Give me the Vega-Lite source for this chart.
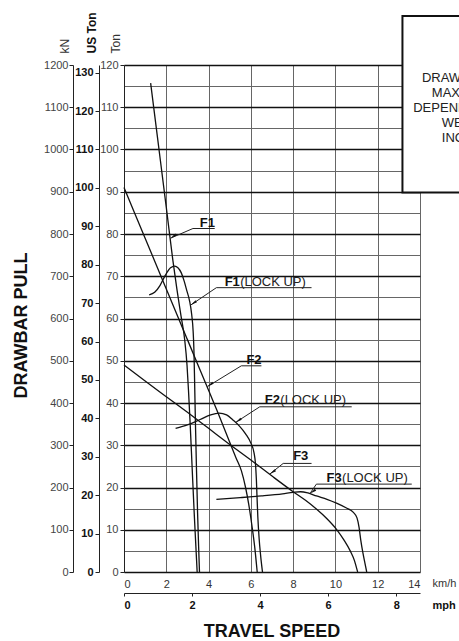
{
  "$schema": "https://vega.github.io/schema/vega-lite/v6.json",
  "width": 296,
  "height": 507,
  "autosize": {"type": "none"},
  "padding": {"left": 124, "top": 65, "right": 39, "bottom": 69},
  "config": {
    "font": "Liberation Sans",
    "view": {"stroke": null},
    "axis": {"labelFont": "Liberation Sans", "titleFont": "Liberation Sans"}
  },
  "title": {"text": "TRAVEL SPEED", "orient": "bottom", "anchor": "middle", "fontSize": 18, "fontWeight": "bold", "color": "#111", "offset": 13},
  "datasets": {
    "curves": [
      {"curve": "F1", "i": 0, "x": 1.26, "y": 115.7}, {"curve": "F1", "i": 1, "x": 1.6, "y": 102.2}, {"curve": "F1", "i": 2, "x": 2.0, "y": 86.3}, {"curve": "F1", "i": 3, "x": 2.31, "y": 73.8}, {"curve": "F1", "i": 4, "x": 2.5, "y": 67}, {"curve": "F1", "i": 5, "x": 2.7, "y": 60.5}, {"curve": "F1", "i": 6, "x": 2.87, "y": 55}, {"curve": "F1", "i": 7, "x": 2.98, "y": 49}, {"curve": "F1", "i": 8, "x": 3.05, "y": 43}, {"curve": "F1", "i": 9, "x": 3.13, "y": 35}, {"curve": "F1", "i": 10, "x": 3.22, "y": 25}, {"curve": "F1", "i": 11, "x": 3.32, "y": 14}, {"curve": "F1", "i": 12, "x": 3.4, "y": 6}, {"curve": "F1", "i": 13, "x": 3.46, "y": 0},
      {"curve": "F1LU", "i": 0, "x": 1.19, "y": 65.6}, {"curve": "F1LU", "i": 1, "x": 1.45, "y": 66.2}, {"curve": "F1LU", "i": 2, "x": 1.7, "y": 67.8}, {"curve": "F1LU", "i": 3, "x": 1.95, "y": 70.2}, {"curve": "F1LU", "i": 4, "x": 2.2, "y": 72.0}, {"curve": "F1LU", "i": 5, "x": 2.4, "y": 72.4}, {"curve": "F1LU", "i": 6, "x": 2.55, "y": 72.0}, {"curve": "F1LU", "i": 7, "x": 2.71, "y": 70.8}, {"curve": "F1LU", "i": 8, "x": 2.85, "y": 68.8}, {"curve": "F1LU", "i": 9, "x": 2.97, "y": 66.6}, {"curve": "F1LU", "i": 10, "x": 3.1, "y": 64.2}, {"curve": "F1LU", "i": 11, "x": 3.2, "y": 61}, {"curve": "F1LU", "i": 12, "x": 3.27, "y": 57}, {"curve": "F1LU", "i": 13, "x": 3.31, "y": 52}, {"curve": "F1LU", "i": 14, "x": 3.34, "y": 45}, {"curve": "F1LU", "i": 15, "x": 3.38, "y": 35}, {"curve": "F1LU", "i": 16, "x": 3.43, "y": 24}, {"curve": "F1LU", "i": 17, "x": 3.48, "y": 14}, {"curve": "F1LU", "i": 18, "x": 3.53, "y": 6}, {"curve": "F1LU", "i": 19, "x": 3.57, "y": 0},
      {"curve": "F2", "i": 0, "x": 0, "y": 91}, {"curve": "F2", "i": 1, "x": 1, "y": 79}, {"curve": "F2", "i": 2, "x": 2, "y": 67}, {"curve": "F2", "i": 3, "x": 3, "y": 55}, {"curve": "F2", "i": 4, "x": 4, "y": 43}, {"curve": "F2", "i": 5, "x": 4.5, "y": 37}, {"curve": "F2", "i": 6, "x": 5.0, "y": 30.7}, {"curve": "F2", "i": 7, "x": 5.3, "y": 27}, {"curve": "F2", "i": 8, "x": 5.55, "y": 24}, {"curve": "F2", "i": 9, "x": 5.75, "y": 20}, {"curve": "F2", "i": 10, "x": 5.9, "y": 16}, {"curve": "F2", "i": 11, "x": 6.05, "y": 11}, {"curve": "F2", "i": 12, "x": 6.18, "y": 6}, {"curve": "F2", "i": 13, "x": 6.3, "y": 0},
      {"curve": "F2LU", "i": 0, "x": 2.44, "y": 34.0}, {"curve": "F2LU", "i": 1, "x": 3.0, "y": 34.8}, {"curve": "F2LU", "i": 2, "x": 3.6, "y": 36.1}, {"curve": "F2LU", "i": 3, "x": 4.1, "y": 37.2}, {"curve": "F2LU", "i": 4, "x": 4.5, "y": 37.6}, {"curve": "F2LU", "i": 5, "x": 4.85, "y": 37.2}, {"curve": "F2LU", "i": 6, "x": 5.15, "y": 36}, {"curve": "F2LU", "i": 7, "x": 5.45, "y": 34.6}, {"curve": "F2LU", "i": 8, "x": 5.75, "y": 32.7}, {"curve": "F2LU", "i": 9, "x": 6.0, "y": 30.5}, {"curve": "F2LU", "i": 10, "x": 6.15, "y": 28.2}, {"curve": "F2LU", "i": 11, "x": 6.22, "y": 25.5}, {"curve": "F2LU", "i": 12, "x": 6.26, "y": 22}, {"curve": "F2LU", "i": 13, "x": 6.29, "y": 18}, {"curve": "F2LU", "i": 14, "x": 6.33, "y": 13}, {"curve": "F2LU", "i": 15, "x": 6.39, "y": 8}, {"curve": "F2LU", "i": 16, "x": 6.46, "y": 4}, {"curve": "F2LU", "i": 17, "x": 6.55, "y": 0},
      {"curve": "F3", "i": 0, "x": 0, "y": 49}, {"curve": "F3", "i": 1, "x": 1, "y": 45.2}, {"curve": "F3", "i": 2, "x": 2, "y": 41.5}, {"curve": "F3", "i": 3, "x": 3, "y": 37.8}, {"curve": "F3", "i": 4, "x": 4, "y": 34.0}, {"curve": "F3", "i": 5, "x": 5, "y": 30.2}, {"curve": "F3", "i": 6, "x": 6, "y": 26.5}, {"curve": "F3", "i": 7, "x": 7, "y": 22.7}, {"curve": "F3", "i": 8, "x": 8, "y": 19.0}, {"curve": "F3", "i": 9, "x": 8.6, "y": 16.9}, {"curve": "F3", "i": 10, "x": 9.1, "y": 14.9}, {"curve": "F3", "i": 11, "x": 9.6, "y": 12.6}, {"curve": "F3", "i": 12, "x": 10.05, "y": 10.1}, {"curve": "F3", "i": 13, "x": 10.4, "y": 7.6}, {"curve": "F3", "i": 14, "x": 10.7, "y": 5}, {"curve": "F3", "i": 15, "x": 10.9, "y": 2.7}, {"curve": "F3", "i": 16, "x": 11.05, "y": 0},
      {"curve": "F3LU", "i": 0, "x": 4.37, "y": 17.2}, {"curve": "F3LU", "i": 1, "x": 5.5, "y": 17.6}, {"curve": "F3LU", "i": 2, "x": 6.5, "y": 18.0}, {"curve": "F3LU", "i": 3, "x": 7.5, "y": 18.5}, {"curve": "F3LU", "i": 4, "x": 8.0, "y": 18.85}, {"curve": "F3LU", "i": 5, "x": 8.35, "y": 19.0}, {"curve": "F3LU", "i": 6, "x": 8.7, "y": 18.7}, {"curve": "F3LU", "i": 7, "x": 9.1, "y": 18.0}, {"curve": "F3LU", "i": 8, "x": 9.6, "y": 17.2}, {"curve": "F3LU", "i": 9, "x": 10.05, "y": 16.3}, {"curve": "F3LU", "i": 10, "x": 10.5, "y": 15.2}, {"curve": "F3LU", "i": 11, "x": 10.85, "y": 14.1}, {"curve": "F3LU", "i": 12, "x": 11.02, "y": 12.8}, {"curve": "F3LU", "i": 13, "x": 11.12, "y": 10.5}, {"curve": "F3LU", "i": 14, "x": 11.2, "y": 7.5}, {"curve": "F3LU", "i": 15, "x": 11.3, "y": 4.5}, {"curve": "F3LU", "i": 16, "x": 11.4, "y": 2}, {"curve": "F3LU", "i": 17, "x": 11.48, "y": 0}
    ],
    "ann": [
      {"k": "F1", "lu": "", "tx": 3.58, "ty": 81.7, "ux1": 3.26, "ux2": 4.29, "uy": 81.3, "px": 2.2, "py": 79.0},
      {"k": "F1", "lu": "(LOCK UP)", "tx": 4.76, "ty": 67.7, "ux1": 4.37, "ux2": 8.87, "uy": 67.3, "px": 3.16, "py": 63.2},
      {"k": "F2", "lu": "", "tx": 5.79, "ty": 49.2, "ux1": 5.55, "ux2": 6.5, "uy": 48.8, "px": 3.95, "py": 43.9},
      {"k": "F2", "lu": "(LOCK UP)", "tx": 6.66, "ty": 39.8, "ux1": 6.42, "ux2": 10.77, "uy": 39.1, "px": 5.28, "py": 35.4},
      {"k": "F3", "lu": "", "tx": 8.0, "ty": 26.5, "ux1": 7.53, "ux2": 8.87, "uy": 25.7, "px": 6.9, "py": 23.2},
      {"k": "F3", "lu": "(LOCK UP)", "tx": 9.58, "ty": 21.4, "ux1": 9.1, "ux2": 13.61, "uy": 20.8, "px": 8.8, "py": 18.6}
    ],
    "box": [{"x1": 13.17, "x2": 18, "y1": 89.8, "y2": 131.6}],
    "boxtext": [
      {"t": "DRAWBAR PULL", "x": 14.09, "y": 116.0},
      {"t": "MAXIMUM USABLE", "x": 14.56, "y": 112.4},
      {"t": "DEPENDS ON TRACTION", "x": 13.68, "y": 108.9},
      {"t": "WEIGHT", "x": 15.03, "y": 105.3},
      {"t": "INCLUDING", "x": 15.03, "y": 101.7}
    ]
  },
  "layer": [
    {
      "data": {"values": [{"d": 0}, {"d": 120}]},
      "mark": {"type": "rule", "opacity": 0},
      "encoding": {
        "y": {"field": "d", "type": "quantitative", "scale": {"domain": [0, 120], "nice": false},
          "axis": {"orient": "left", "offset": 0, "values": [5,15,25,35,45,55,65,75,85,95,105,115], "domain": false, "ticks": false, "labels": false,
            "grid": true, "gridColor": "#666", "gridWidth": 1,
            "title": "DRAWBAR PULL", "titleAngle": -90, "titleAlign": "center", "titleBaseline": "alphabetic", "titleX": -98, "titleY": 260, "titleFontSize": 18, "titleFontWeight": "bold", "titleColor": "#111"}}
      }
    },
    {
      "data": {"values": [{"kN": 0}, {"kN": 1200}]},
      "mark": {"type": "rule", "opacity": 0},
      "encoding": {
        "y": {"field": "kN", "type": "quantitative", "scale": {"domain": [0, 1200], "nice": false},
          "axis": {"orient": "left", "offset": 51, "values": [0,100,200,300,400,500,600,700,800,900,1000,1100,1200], "format": "d",
            "grid": true, "gridColor": "#111", "gridWidth": 1.4,
            "tickSize": 4, "tickColor": "#222", "domainColor": "#222", "labelPadding": 1, "labelFontSize": 11, "labelColor": "#444",
            "title": "kN", "titleAngle": -90, "titleAlign": "left", "titleBaseline": "alphabetic", "titleX": -5, "titleY": -12, "titleFontSize": 12, "titleFontWeight": "normal", "titleColor": "#333"}}
      }
    },
    {
      "data": {"values": [{"us": 0}, {"us": 130}]},
      "mark": {"type": "rule", "opacity": 0},
      "encoding": {
        "y": {"field": "us", "type": "quantitative", "scale": {"domain": [0, 132], "nice": false},
          "axis": {"orient": "left", "offset": 25, "values": [0,10,20,30,40,50,60,70,80,90,100,110,120,130], "grid": false,
            "tickSize": 4, "tickColor": "#222", "domainColor": "#222", "labelPadding": 2, "labelFontSize": 11, "labelFontWeight": "bold", "labelColor": "#111",
            "title": "US Ton", "titleAngle": -90, "titleAlign": "left", "titleBaseline": "alphabetic", "titleX": -4, "titleY": -12, "titleFontSize": 12, "titleFontWeight": "bold", "titleColor": "#111"}}
      }
    },
    {
      "data": {"values": [{"mph": 0}, {"mph": 8.7}]},
      "mark": {"type": "rule", "opacity": 0},
      "encoding": {
        "x": {"field": "mph", "type": "quantitative", "scale": {"domain": [0, 8.699], "nice": false, "zero": false},
          "axis": {"orient": "bottom", "offset": 21, "values": [0,2,4,6,8], "grid": false, "tickSize": 3, "tickColor": "#222", "domainColor": "#222",
            "labelPadding": 3, "labelFontSize": 11, "labelFontWeight": "bold", "labelColor": "#111",
            "title": "mph", "titleX": 308, "titleY": 12, "titleAlign": "left", "titleBaseline": "middle", "titleFontSize": 11, "titleFontWeight": "bold", "titleColor": "#111"}}
      }
    },
    {
      "layer": [
        {
          "data": {"name": "curves"},
          "mark": {"type": "line", "color": "#111", "strokeWidth": 1.3, "interpolate": "monotone"},
          "encoding": {
            "x": {"field": "x", "type": "quantitative", "scale": {"domain": [0, 14], "nice": false, "zero": false},
              "axis": {"orient": "bottom", "values": [0,1,2,3,4,5,6,7,8,9,10,11,12,13,14], "grid": true, "gridColor": "#666", "gridWidth": 1, "ticks": false, "domain": false,
                "labelExpr": "datum.value % 2 === 0 ? datum.label : ''", "labelPadding": 6, "labelFontSize": 11, "labelColor": "#333",
                "title": "km/h", "titleX": 308, "titleY": 11, "titleAlign": "left", "titleBaseline": "middle", "titleFontSize": 11, "titleFontWeight": "normal", "titleColor": "#333"}},
            "y": {"field": "y", "type": "quantitative", "scale": {"domain": [0, 120], "nice": false},
              "axis": {"orient": "left", "values": [0,10,20,30,40,50,60,70,80,90,100,110,120], "grid": false,
                "tickSize": 4, "tickColor": "#222", "domainColor": "#222",
                "labelPadding": 2, "labelFontSize": 11, "labelColor": "#444",
                "title": "Ton", "titleAngle": -90, "titleAlign": "left", "titleBaseline": "alphabetic", "titleX": -5, "titleY": -12, "titleFontSize": 12, "titleFontWeight": "normal", "titleColor": "#333"}},
            "detail": {"field": "curve"},
            "order": {"field": "i"}
          }
        },
        {
          "data": {"name": "box"},
          "mark": {"type": "rect", "fill": "white", "stroke": "#111", "strokeWidth": 2},
          "encoding": {
            "x": {"field": "x1", "type": "quantitative", "scale": {"domain": [0, 14], "nice": false, "zero": false}},
            "x2": {"field": "x2"},
            "y": {"field": "y1", "type": "quantitative", "scale": {"domain": [0, 120], "nice": false}},
            "y2": {"field": "y2"}
          }
        },
        {
          "data": {"name": "boxtext"},
          "mark": {"type": "text", "align": "left", "baseline": "alphabetic", "fontSize": 13, "color": "#222"},
          "encoding": {
            "x": {"field": "x", "type": "quantitative", "scale": {"domain": [0, 14], "nice": false, "zero": false}},
            "y": {"field": "y", "type": "quantitative", "scale": {"domain": [0, 120], "nice": false}},
            "text": {"field": "t"}
          }
        },
        {
          "data": {"name": "ann"},
          "mark": {"type": "rule", "color": "#222", "strokeWidth": 1},
          "encoding": {
            "x": {"field": "ux1", "type": "quantitative", "scale": {"domain": [0, 14], "nice": false, "zero": false}},
            "x2": {"field": "ux2"},
            "y": {"field": "uy", "type": "quantitative", "scale": {"domain": [0, 120], "nice": false}}
          }
        },
        {
          "data": {"name": "ann"},
          "mark": {"type": "rule", "color": "#222", "strokeWidth": 1},
          "encoding": {
            "x": {"field": "ux1", "type": "quantitative", "scale": {"domain": [0, 14], "nice": false, "zero": false}},
            "x2": {"field": "px"},
            "y": {"field": "uy", "type": "quantitative", "scale": {"domain": [0, 120], "nice": false}},
            "y2": {"field": "py"}
          }
        },
        {
          "data": {"name": "ann"},
          "mark": {"type": "point", "filled": true, "color": "#111", "opacity": 1, "size": 30, "angle": 236, "shape": "M0,0L0.45,2.4L-0.45,2.4Z"},
          "encoding": {
            "x": {"field": "px", "type": "quantitative", "scale": {"domain": [0, 14], "nice": false, "zero": false}},
            "y": {"field": "py", "type": "quantitative", "scale": {"domain": [0, 120], "nice": false}}
          }
        },
        {
          "data": {"name": "ann"},
          "mark": {"type": "text", "align": "left", "baseline": "alphabetic", "fontSize": 13, "fontWeight": "bold", "color": "#111"},
          "encoding": {
            "x": {"field": "tx", "type": "quantitative", "scale": {"domain": [0, 14], "nice": false, "zero": false}},
            "y": {"field": "ty", "type": "quantitative", "scale": {"domain": [0, 120], "nice": false}},
            "text": {"field": "k"}
          }
        },
        {
          "data": {"name": "ann"},
          "mark": {"type": "text", "align": "left", "baseline": "alphabetic", "fontSize": 13, "color": "#222", "dx": 15.5},
          "encoding": {
            "x": {"field": "tx", "type": "quantitative", "scale": {"domain": [0, 14], "nice": false, "zero": false}},
            "y": {"field": "ty", "type": "quantitative", "scale": {"domain": [0, 120], "nice": false}},
            "text": {"field": "lu"}
          }
        }
      ]
    }
  ],
  "resolve": {"scale": {"x": "independent", "y": "independent"}, "axis": {"x": "independent", "y": "independent"}}
}
